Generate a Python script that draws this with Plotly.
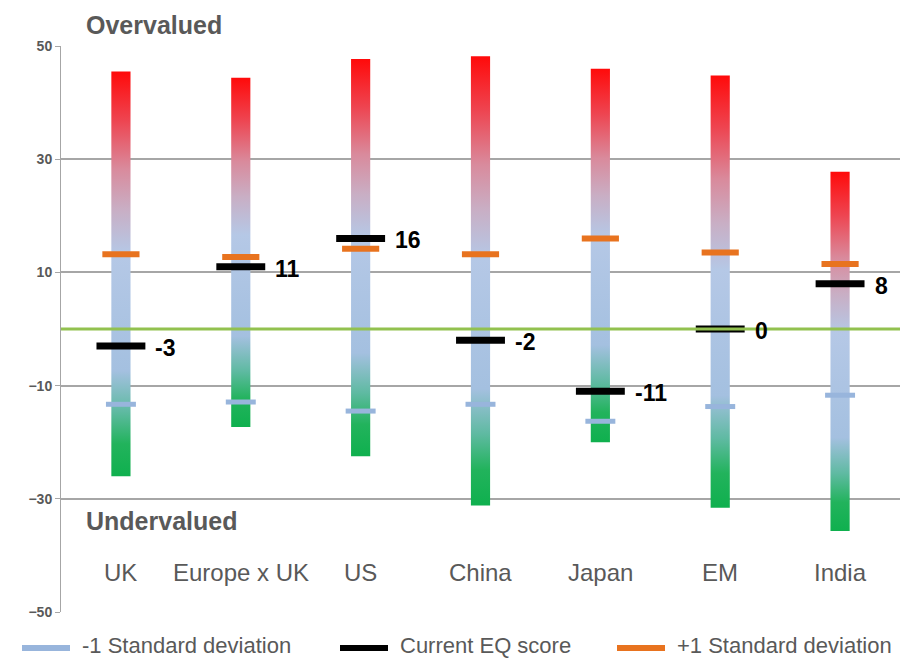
import plotly.graph_objects as go

# Equity valuation (EQ) scores by market
categories = ["UK", "Europe x UK", "US", "China", "Japan", "EM", "India"]
range_high = [45.5, 44.4, 47.7, 48.2, 46.0, 44.8, 27.8]
range_low = [-26.0, -17.3, -22.5, -31.2, -20.0, -31.6, -35.7]
plus_sd = [13.2, 12.7, 14.2, 13.2, 16.0, 13.5, 11.5]
minus_sd = [-13.3, -12.9, -14.5, -13.3, -16.3, -13.7, -11.7]
current_eq = [-3, 11, 16, -2, -11, 0, 8]
y_ticks = [50, 30, 10, -10, -30, -50]

GREY = "#595959"
GRID = "#a6a6a6"
BLUE = "#98b5dc"
BLACK = "#000000"
ORANGE = "#e8731f"
SANS = "Liberation Sans, Arial, sans-serif"

BAR_HALF = 0.08
BLUE_HALF = 0.125
ORANGE_HALF = 0.155
BLACK_HALF = 0.204

W, H = 914, 659
M = dict(l=61, r=14, t=46, b=47)
PW = W - M["l"] - M["r"]
PH = H - M["t"] - M["b"]


def px_x(px):
    return (px - M["l"]) / PW


def px_y(py):
    return (H - M["b"] - py) / PH


# green (cheap) -> light blue -> red (expensive), bottom to top of each bar
gradient = [
    [0.0, "#0fb04e"],
    [0.08, "#22b35c"],
    [0.16, "#5fbaa2"],
    [0.26, "#a4c0e0"],
    [0.55, "#b5c8e6"],
    [0.66, "#c9aec4"],
    [0.76, "#d98a9c"],
    [0.88, "#ee4450"],
    [1.0, "#ff0a0a"],
]

fig = go.Figure()

for i, (hi, lo) in enumerate(zip(range_high, range_low)):
    fig.add_trace(go.Scatter(
        x=[i - BAR_HALF, i + BAR_HALF, i + BAR_HALF, i - BAR_HALF, i - BAR_HALF],
        y=[lo, lo, hi, hi, lo],
        mode="lines",
        line=dict(width=0),
        fill="toself",
        fillgradient=dict(type="vertical", colorscale=gradient, start=lo, stop=hi),
        hoverinfo="skip",
        showlegend=False,
    ))


def dashes(values, half):
    xs, ys = [], []
    for i, v in enumerate(values):
        xs += [i - half, i + half, None]
        ys += [v, v, None]
    return xs, ys


x, y = dashes(minus_sd, BLUE_HALF)
fig.add_trace(go.Scatter(x=x, y=y, mode="lines", name="-1 Standard deviation",
                         line=dict(color=BLUE, width=5), showlegend=False))
x, y = dashes(current_eq, BLACK_HALF)
fig.add_trace(go.Scatter(x=x, y=y, mode="lines", name="Current EQ score",
                         line=dict(color=BLACK, width=7), showlegend=False))
x, y = dashes(plus_sd, ORANGE_HALF)
fig.add_trace(go.Scatter(x=x, y=y, mode="lines", name="+1 Standard deviation",
                         line=dict(color=ORANGE, width=6), showlegend=False))

# zero line, drawn over the bars and markers
fig.add_trace(go.Scatter(
    x=[-0.5, 6.5], y=[0, 0], mode="lines",
    line=dict(color="#92c14f", width=3),
    hoverinfo="skip", showlegend=False,
))

annotations = []
for i, v in enumerate(current_eq):
    annotations.append(dict(
        x=i + BLACK_HALF, y=v, xref="x", yref="y", text=f"<b>{v}</b>",
        showarrow=False, xanchor="left", yanchor="middle", xshift=8, yshift=-2,
        font=dict(family=SANS, size=23, color=BLACK),
    ))

for i, c in enumerate(categories):
    annotations.append(dict(
        x=i, y=-43, xref="x", yref="y", text=c, showarrow=False,
        xanchor="center", yanchor="middle",
        font=dict(family=SANS, size=24, color=GREY),
    ))

annotations.append(dict(
    x=px_x(84), y=px_y(25), xref="paper", yref="paper", text="<b>Overvalued</b>",
    showarrow=False, xanchor="left", yanchor="middle",
    font=dict(family=SANS, size=25, color=GREY),
))
annotations.append(dict(
    x=px_x(84), y=px_y(521), xref="paper", yref="paper", text="<b>Undervalued</b>",
    showarrow=False, xanchor="left", yanchor="middle",
    font=dict(family=SANS, size=25, color=GREY),
))

# legend row beneath the plot
legend_items = [
    ("-1 Standard deviation", BLUE, 22),
    ("Current EQ score", BLACK, 340),
    ("+1 Standard deviation", ORANGE, 617),
]
shapes = []
for label, color, x0 in legend_items:
    shapes.append(dict(
        type="line", xref="paper", yref="paper",
        x0=px_x(x0), x1=px_x(x0 + 48), y0=px_y(648), y1=px_y(648),
        line=dict(color=color, width=6),
    ))
    annotations.append(dict(
        x=px_x(x0 + 59), y=px_y(645), xref="paper", yref="paper", text=label,
        showarrow=False, xanchor="left", yanchor="middle", borderpad=0,
        font=dict(family=SANS, size=22, color=GREY),
    ))

fig.update_layout(
    width=W, height=H,
    margin=M,
    paper_bgcolor="white", plot_bgcolor="white",
    showlegend=False,
    xaxis=dict(
        range=[-0.5, 6.5], showgrid=False, zeroline=False,
        showticklabels=False, ticks="", showline=False,
    ),
    yaxis=dict(
        range=[-50, 50], tickvals=y_ticks, showgrid=True, gridcolor=GRID, gridwidth=1.5,
        zeroline=False, showline=True, linecolor=GRID, linewidth=1,
        ticks="outside", ticklen=5, tickcolor=GRID,
        tickfont=dict(family=SANS, size=14, color=GREY, weight="bold"),
    ),
    annotations=annotations,
    shapes=shapes,
)

fig.write_html("out.html")
